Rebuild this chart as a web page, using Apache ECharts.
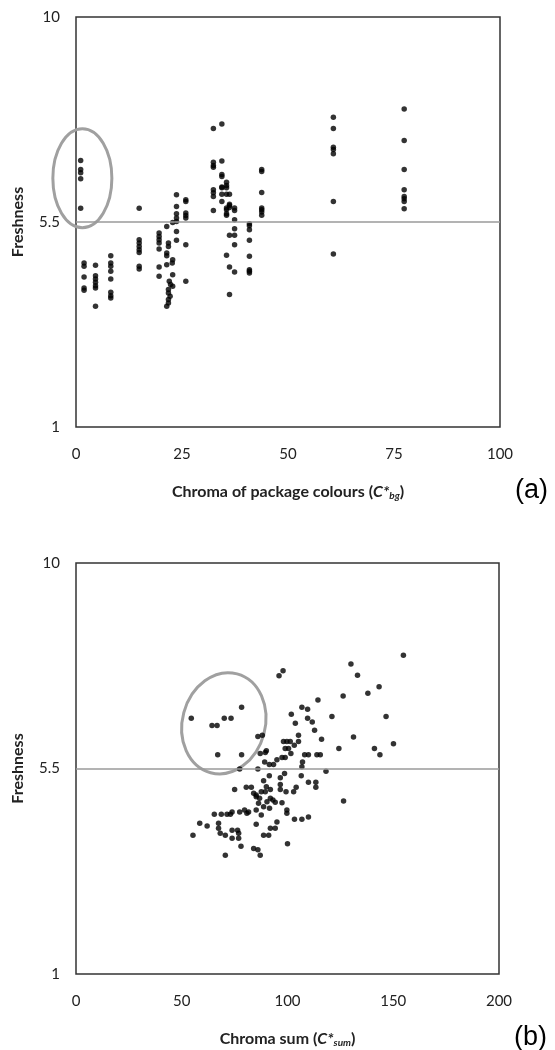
<!DOCTYPE html>
<html><head><meta charset="utf-8">
<script src="https://cdn.jsdelivr.net/npm/echarts@6/dist/echarts.min.js"></script>
<style>html,body{margin:0;padding:0;background:#fff}#c{width:555px;height:1050px}</style>
</head><body><div id="c"></div>
<script>
// Panel (a): chroma of package colours vs freshness
const pointsA = [
 [1.1,6.85],[1.1,6.65],[1.1,6.58],[1.1,6.45],[1.1,5.8],
 [1.9,4.60],[1.9,4.53],[1.9,4.29],[1.9,4.05],[1.9,4.00],
 [4.6,4.55],[4.6,4.32],[4.6,4.25],[4.6,4.18],[4.6,4.10],[4.6,4.05],[4.6,3.65],
 [8.2,4.76],[8.2,4.60],[8.2,4.53],[8.2,4.42],[8.2,4.25],[8.2,3.96],[8.2,3.88],[8.2,3.83],
 [14.9,5.80],[14.9,5.11],[14.9,5.04],[14.9,4.96],[14.9,4.89],[14.9,4.83],[14.9,4.53],[14.9,4.47],
 [19.6,5.26],[19.6,5.18],[19.6,5.11],[19.6,5.04],[19.6,4.91],[19.6,4.51],[19.6,4.31],
 [21.4,5.40],[21.8,5.04],[21.8,4.96],[21.4,4.82],[21.4,4.76],[22.8,4.67],[22.7,4.60],[21.4,4.56],
 [22.8,4.34],[22.0,4.20],[22.3,4.13],[22.8,4.09],[21.8,4.02],[21.8,3.94],[22.2,3.87],[21.8,3.80],[21.8,3.72],[21.4,3.65],
 [23.7,6.10],[23.7,5.84],[23.7,5.68],[23.7,5.59],[23.7,5.51],[23.7,5.29],[23.7,5.10],[22.8,5.49],
 [25.9,5.99],[25.9,5.95],[25.9,5.70],[25.9,5.64],[25.9,5.59],[25.9,5.00],[25.9,4.20],
 [32.4,7.55],[32.4,6.81],[32.4,6.74],[32.4,6.70],[32.4,6.21],[32.4,6.14],[32.4,6.06],[32.4,5.75],
 [34.4,7.65],[34.4,6.84],[34.4,6.54],[34.4,6.50],[34.4,6.27],[34.4,6.25],[34.4,6.11],[34.4,5.95],
 [35.5,6.37],[35.5,6.30],[35.5,6.25],[35.5,6.11],[35.5,5.81],[35.5,5.77],[35.5,5.68],[35.5,5.65],[35.5,4.77],
 [36.2,6.11],[36.2,5.89],[36.2,5.86],[36.2,5.82],[36.2,5.21],[36.2,4.51],[36.2,3.91],
 [37.4,5.81],[37.4,5.75],[37.4,5.55],[37.4,5.35],[37.4,5.21],[37.4,5.00],[37.4,4.40],
 [40.9,5.46],[40.9,5.42],[40.9,5.33],[40.9,5.10],[40.9,4.75],[40.9,4.45],[40.9,4.42],[40.9,4.38],
 [43.8,6.65],[43.8,6.61],[43.8,6.15],[43.8,5.81],[43.8,5.77],[43.8,5.72],[43.8,5.65],
 [60.7,7.80],[60.7,7.55],[60.7,7.14],[60.7,7.09],[60.7,7.00],[60.7,5.95],[60.7,4.80],
 [77.4,7.98],[77.4,7.29],[77.4,6.65],[77.4,6.21],[77.4,6.06],[77.4,6.01],[77.4,5.95],[77.4,5.79]
];
// Panel (b): chroma sum vs freshness
const pointsB = [
 [54.5,6.60],[64.3,6.44],[66.7,6.44],[70.1,6.60],[73.3,6.60],[78.3,6.84],[67.0,5.80],[78.3,5.80],
 [96.0,7.53],[97.9,7.64],[86.0,6.20],[88.1,6.23],[87.1,5.83],[89.5,5.85],[90.0,5.89],
 [77.4,5.49],[86.0,5.49],[89.2,5.64],[91.4,5.59],[93.4,5.59],[95.0,5.69],[97.4,5.74],[98.9,5.74],
 [101.6,5.83],[98.9,5.94],[100.5,5.94],[98.1,6.09],[99.7,6.09],[101.3,6.09],[103.2,6.01],[105.2,6.09],[105.2,6.23],
 [101.8,6.69],[103.7,6.49],[106.8,6.84],[109.5,6.80],[109.5,6.60],[111.7,6.52],[112.8,6.34],[114.4,7.00],
 [116.1,6.14],[121.0,6.64],[126.3,7.09],[124.3,5.94],[108.1,5.80],[109.9,5.80],[113.9,5.80],[115.5,5.80],
 [107.1,5.64],[106.8,5.54],[118.2,5.44],[91.4,5.34],[96.6,5.30],[98.6,5.39],[106.5,5.34],
 [109.9,5.20],[113.4,5.20],[113.4,5.09],[104.1,5.09],[102.9,4.99],[99.3,4.99],[96.6,5.15],[96.6,5.04],
 [88.7,5.23],[90.0,5.10],[91.9,5.04],[89.5,4.99],[87.6,4.99],[85.2,4.92],[80.5,5.09],[82.9,5.09],
 [84.0,4.96],[85.2,4.88],[86.8,4.85],[75.0,5.04],[86.3,4.74],[88.7,4.66],[90.3,4.77],[91.9,4.85],
 [93.1,4.81],[94.2,4.76],[91.5,4.63],[97.4,4.75],[99.7,4.59],[99.7,4.52],[103.3,4.39],[106.8,4.39],
 [109.9,4.44],[85.2,4.59],[79.7,4.59],[80.8,4.52],[81.6,4.55],[77.4,4.55],[73.8,4.55],[73.0,4.50],
 [71.4,4.50],[68.7,4.50],[65.4,4.50],[87.6,4.48],[95.0,4.33],[94.2,4.19],[91.9,4.19],[85.2,4.28],
 [67.4,4.30],[67.4,4.19],[68.2,4.08],[70.6,4.04],[73.8,4.15],[76.4,4.15],[76.9,4.08],[73.8,3.97],
 [76.9,3.97],[58.5,4.30],[62.0,4.24],[55.3,4.04],[88.7,4.04],[91.1,4.04],[126.5,4.79],
 [70.6,3.60],[87.1,3.60],[86.0,3.72],[100.0,3.85],[78.0,3.80],[84.0,3.75],
 [154.8,7.98],[130.0,7.79],[133.1,7.54],[143.3,7.29],[138.0,7.15],[146.6,6.64],[131.2,6.19],
 [150.1,6.04],[141.1,5.94],[143.7,5.80]
];
const xTicksA = {min: 0, max: 100, step: 25};
const xTicksB = {min: 0, max: 200, step: 50};
const yTicks = {min: 1, max: 10, step: 4.5};
const threshold = 5.5;
// highlighted groups (centre and radii in data units, tilt in degrees)
const ellipseA = {cx: 1.5, cy: 6.46, rx: 6.96, ry: 1.085, tilt: 0};
const ellipseB = {cx: 69.9, cy: 6.49, rx: 19.6, ry: 1.12, tilt: 15};

const FONT = 'Lato, "Open Sans", sans-serif';
const chart = echarts.init(document.getElementById('c'));

function xAxisCfg(grid, t, name) {
  return {
    gridIndex: grid, type: 'value', min: t.min, max: t.max, interval: t.step,
    axisLine: {show: false}, axisTick: {show: false}, splitLine: {show: false},
    axisLabel: {margin: 20, color: '#222', fontSize: 15, fontFamily: FONT},
    name: name, nameLocation: 'middle', nameGap: 56,
    nameTextStyle: {
      fontFamily: FONT, fontWeight: 'bold', fontSize: 16, color: '#222',
      rich: {
        i: {fontFamily: FONT, fontStyle: 'italic', fontWeight: 'bold', fontSize: 16, color: '#222'},
        s: {fontFamily: FONT, fontStyle: 'italic', fontWeight: 'bold', fontSize: 10, color: '#222', padding: [8, 0, 0, 0]}
      }
    }
  };
}
function yAxisCfg(grid) {
  return {
    gridIndex: grid, type: 'value', min: yTicks.min, max: yTicks.max, interval: yTicks.step,
    axisLine: {show: false}, axisTick: {show: false}, splitLine: {show: false},
    axisLabel: {margin: 16, color: '#222', fontSize: 15, fontFamily: FONT},
    name: 'Freshness', nameLocation: 'middle', nameGap: 50,
    nameTextStyle: {fontFamily: FONT, fontWeight: 'bold', fontSize: 16, color: '#222'}
  };
}
function seriesCfg(idx, data) {
  return {
    type: 'scatter', xAxisIndex: idx, yAxisIndex: idx, data: data,
    symbolSize: 5.5, itemStyle: {color: '#000'}, silent: true,
    markLine: {
      silent: true, symbol: 'none', label: {show: false},
      lineStyle: {color: '#9a9a9a', type: 'solid', width: 1.5},
      data: [{yAxis: threshold}]
    }
  };
}
const gridStyle = {show: true, borderColor: '#333', borderWidth: 1.5, backgroundColor: 'transparent'};
chart.setOption({
  animation: false,
  grid: [
    Object.assign({left: 76, top: 17, width: 424, height: 410}, gridStyle),
    Object.assign({left: 76, top: 563, width: 423, height: 411}, gridStyle)
  ],
  xAxis: [
    xAxisCfg(0, xTicksA, 'Chroma of package colours ({i|C*}{s|bg})'),
    xAxisCfg(1, xTicksB, 'Chroma sum ({i|C*}{s|sum})')
  ],
  yAxis: [yAxisCfg(0), yAxisCfg(1)],
  series: [seriesCfg(0, pointsA), seriesCfg(1, pointsB)]
});

function ellipseGraphic(grid, e) {
  const c = chart.convertToPixel({gridIndex: grid}, [e.cx, e.cy]);
  const dx = chart.convertToPixel({gridIndex: grid}, [e.cx + e.rx, e.cy]);
  const dy = chart.convertToPixel({gridIndex: grid}, [e.cx, e.cy + e.ry]);
  return {
    type: 'ellipse', x: c[0], y: c[1], rotation: -e.tilt * Math.PI / 180, silent: true,
    shape: {cx: 0, cy: 0, rx: Math.abs(dx[0] - c[0]), ry: Math.abs(c[1] - dy[1])},
    style: {fill: 'none', stroke: '#a0a0a0', lineWidth: 3}
  };
}
function panelLabel(grid, text) {
  const p = chart.convertToPixel({gridIndex: grid}, [grid === 0 ? xTicksA.max : xTicksB.max, yTicks.min]);
  return {
    type: 'text', x: p[0] + 15, y: p[1] + 64, silent: true,
    style: {text: text, fontSize: 27, fontFamily: '"Liberation Sans", Arial, sans-serif', fill: '#000', verticalAlign: 'middle', align: 'left'}
  };
}
chart.setOption({
  graphic: [ellipseGraphic(0, ellipseA), ellipseGraphic(1, ellipseB), panelLabel(0, '(a)'), panelLabel(1, '(b)')]
});
</script></body></html>
